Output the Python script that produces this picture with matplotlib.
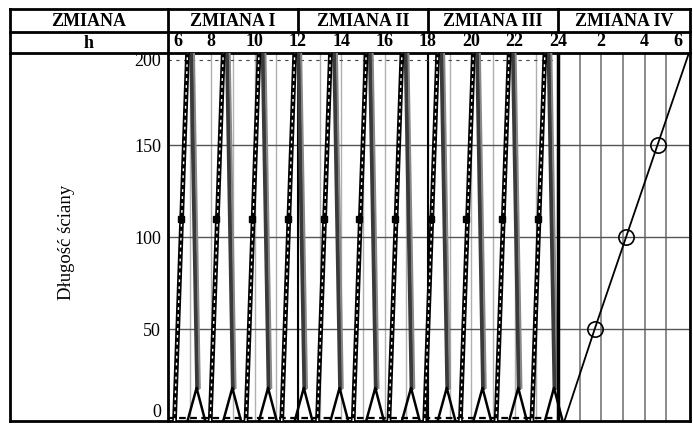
import numpy as np
import matplotlib
matplotlib.use("Agg")
import matplotlib.pyplot as plt
from matplotlib.transforms import blended_transform_factory

plt.rcParams['font.family'] = ['Liberation Serif', 'DejaVu Serif']

# ---------------------------------------------------------------------------
# Data
# ---------------------------------------------------------------------------
shift_names = ["ZMIANA I", "ZMIANA II", "ZMIANA III", "ZMIANA IV"]
shift_bounds = [6, 12, 18, 24, 30.1]
hour_ticks = [6.45, 8, 10, 12, 14, 16, 18, 20, 22, 24, 26, 28, 29.55]
hour_labels = ["6", "8", "10", "12", "14", "16", "18", "20", "22", "24", "2", "4", "6"]
len_ticks = [0, 50, 100, 150, 200]

# start of each cutting cycle (h) in shifts I-III
cycle_start = [6.3, 7.95, 9.6, 11.25, 12.9, 14.55, 16.2, 17.85, 19.5, 21.15, 22.8]
# one cycle, time relative to its start
cut_t = [0.0, 0.6]          # cutting run (dashed)
cut_l = [0, 200]
ret_t = [0.78, 1.05]        # return run (solid)
ret_l = [200, 18]
tri_t = [0.6, 1.02, 1.42]   # end cleaning (triangle)
tri_l = [0, 18, 0]
block_t = 0.28
block_l = 110

# shift IV - single slow run
last_t = [24.3, 25.7, 27.15, 28.6, 30.05]
last_l = [0, 50, 100, 150, 200]

# ---------------------------------------------------------------------------
# Plot
# ---------------------------------------------------------------------------
fig = plt.figure(figsize=(6.93, 4.26), dpi=100)
ax = fig.add_axes([168/693, 5/426, 522/693, 368/426])
ax.set_xlim(shift_bounds[0], shift_bounds[-1])
ax.set_ylim(0, 200)

# grid
ax.vlines([h for h in range(7, 24)], 0, 200, color='#b0b0b0', lw=1, zorder=1)
ax.vlines([h for h in range(25, 30)], 0, 200, color='#777777', lw=1.2, zorder=1)
ax.hlines([50, 100, 150], shift_bounds[0], shift_bounds[-1], color='#555555', lw=1, zorder=1)
ax.vlines([12, 18], 0, 200, color='black', lw=1.5, zorder=2)
ax.vlines([24], 0, 200, color='black', lw=2.5, zorder=4)

# small marker rows at top and bottom of shifts I-III
ax.plot([6, 24], [196, 196], color='#444444', lw=0.8, ls=(0, (3, 4)))
ax.plot([6, 24], [1.5, 1.5], color='black', lw=1.6, ls=(0, (3, 2)))

for t0 in cycle_start:
    ax.plot([t0 + t for t in ret_t], ret_l, color='#3a3a3a', lw=3, zorder=3)
    ax.plot([t0 + t + 0.12 for t in ret_t], ret_l, color='#888888', lw=1.4, zorder=3)
    ax.plot([t0 + t for t in tri_t], tri_l, color='black', lw=1.8, zorder=3)
    ax.plot([t0 + t for t in cut_t], cut_l, color='black', lw=3.4, zorder=3,
            solid_capstyle='butt')
    ax.plot([t0 + t for t in cut_t], cut_l, color='white', lw=1.0, zorder=3,
            ls=(0, (2, 3)))
    ax.plot(t0 + block_t, block_l, marker='s', ms=5, color='black', zorder=3)

ax.plot(last_t, last_l, color='black', lw=1.3, zorder=3)
ax.plot(last_t[1:4], last_l[1:4], ls='none', marker='o', ms=11,
        mfc='none', mec='black', mew=1.2, zorder=3)

for s in ax.spines.values():
    s.set_linewidth(2)

ax.xaxis.tick_top()
ax.set_xticks(hour_ticks, hour_labels, fontsize=13, fontweight='bold')
ax.tick_params(axis='x', length=0, pad=2.5)
ax.set_yticks(len_ticks, [str(v) for v in len_ticks], fontsize=13)
ax.tick_params(axis='y', length=0, pad=5)
ylabs = ax.get_yticklabels()
ylabs[0].set_va('bottom')
ylabs[-1].set_va('top')
ax.set_ylabel("Długość ściany", fontsize=13.5)
ax.yaxis.set_label_coords(-0.178, 0.486)

# header table (pixel coordinates)
hdr = fig.add_axes([0, 0, 1, 1])
hdr.set_xlim(0, 693)
hdr.set_ylim(426, 0)
hdr.axis('off')
lk = dict(color='black', lw=2, solid_capstyle='projecting')
hdr.plot([10, 690], [9, 9], **lk)
hdr.plot([10, 690], [32, 32], **lk)
hdr.plot([10, 168], [53, 53], **lk)
hdr.plot([10, 168], [421, 421], **lk)
hdr.plot([10, 10], [9, 421], **lk)
hdr.plot([690, 690], [9, 53], **lk)
hdr.plot([168, 168], [9, 53], **lk)
tr = blended_transform_factory(ax.transData, hdr.transData)
for b in shift_bounds[1:-1]:
    hdr.plot([b, b], [9, 32], transform=tr, **lk)
hdr.text(89, 21, "ZMIANA", ha='center', va='center', fontsize=13, fontweight='bold')
hdr.text(89, 43, "h", ha='center', va='center', fontsize=13, fontweight='bold')
for i, name in enumerate(shift_names):
    mid = (shift_bounds[i] + shift_bounds[i + 1]) / 2
    hdr.text(mid, 21, name, transform=tr, ha='center', va='center',
             fontsize=13, fontweight='bold')

fig.savefig("out.png", dpi=100)
